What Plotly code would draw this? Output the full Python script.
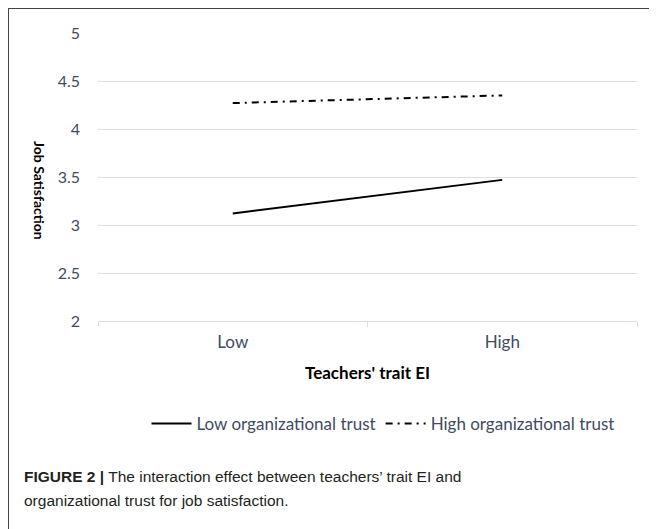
import plotly.graph_objects as go

categories = ["Low", "High"]
low_trust = [3.12, 3.47]
high_trust = [4.27, 4.35]
y_ticks = [2, 2.5, 3, 3.5, 4, 4.5, 5]
y_tick_labels = ["2", "2.5", "3", "3.5", "4", "4.5", "5"]

# page body adds an 8px margin, so the figure is sized/offset accordingly
OFF = 8
W, H = 657 - OFF, 529 - OFF
L, R, T, B = 98 - OFF, 20, 33 - OFF, 208
pw, ph = W - L - R, H - T - B

def px_x(p):
    return (p - OFF - L) / pw

def px_y(p):
    return (H - B - (p - OFF)) / ph

tick_color = "#3F4B62"
grid_color = "#D9DEE7"
FONT = "Lato"

fig = go.Figure()
fig.add_trace(go.Scatter(
    x=categories, y=low_trust, mode="lines", name="Low organizational trust",
    line=dict(color="black", width=2)))
fig.add_trace(go.Scatter(
    x=categories, y=high_trust, mode="lines", name="High organizational trust",
    line=dict(color="black", width=2, dash="7px,5px,2px,5px")))

fig.update_layout(
    width=W, height=H,
    margin=dict(l=L, r=R, t=T, b=B),
    paper_bgcolor="white", plot_bgcolor="white",
    showlegend=True,
    legend=dict(orientation="h", x=px_x(383), xanchor="center", y=px_y(424), yanchor="middle",
                font=dict(family=FONT, size=17, color=tick_color),
                itemwidth=40, bgcolor="rgba(0,0,0,0)"),
    xaxis=dict(type="category", range=[-0.5, 1.5], tickson="boundaries",
               ticks="outside", ticklen=5, tickcolor=grid_color,
               showgrid=False, showline=True, linecolor=grid_color, linewidth=1,
               tickfont=dict(family=FONT, size=17, color=tick_color),
               ticklabelstandoff=6, zeroline=False),
    yaxis=dict(range=[2, 5], tickvals=y_ticks, ticktext=y_tick_labels,
               showgrid=True, gridcolor=grid_color, gridwidth=1, zeroline=False,
               showline=False, ticks="",
               tickfont=dict(family=FONT, size=16, color=tick_color),
               ticklabelstandoff=17),
)

fig.add_annotation(text="<b>Teachers' trait EI</b>", xref="paper", yref="paper",
                   x=0.5, y=px_y(372), xanchor="center", yanchor="middle", showarrow=False,
                   font=dict(family=FONT, size=17, color="black"))
fig.add_annotation(text="<b>Job Satisfaction</b>", xref="paper", yref="paper",
                   x=px_x(40), y=px_y(190), xanchor="center", yanchor="middle", showarrow=False,
                   textangle=90, font=dict(family=FONT, size=14, color="black"))
fig.add_annotation(
    text="<b>FIGURE 2 |</b> The interaction effect between teachers’ trait EI and",
    xref="paper", yref="paper", x=px_x(22), y=px_y(476), xanchor="left", yanchor="middle",
    align="left", showarrow=False,
    font=dict(family="Liberation Sans", size=15.5, color="#231F20"))
fig.add_annotation(
    text="organizational trust for job satisfaction.",
    xref="paper", yref="paper", x=px_x(22), y=px_y(500), xanchor="left", yanchor="middle",
    align="left", showarrow=False,
    font=dict(family="Liberation Sans", size=15.5, color="#231F20"))

# outer frame (left and top edges)
fig.add_shape(type="line", xref="paper", yref="paper", x0=px_x(8), x1=px_x(8),
              y0=px_y(8), y1=px_y(560), line=dict(color="#444444", width=2))
fig.add_shape(type="line", xref="paper", yref="paper", x0=px_x(8), x1=px_x(700),
              y0=px_y(8), y1=px_y(8), line=dict(color="#444444", width=2))

fig.write_html("out.html")
